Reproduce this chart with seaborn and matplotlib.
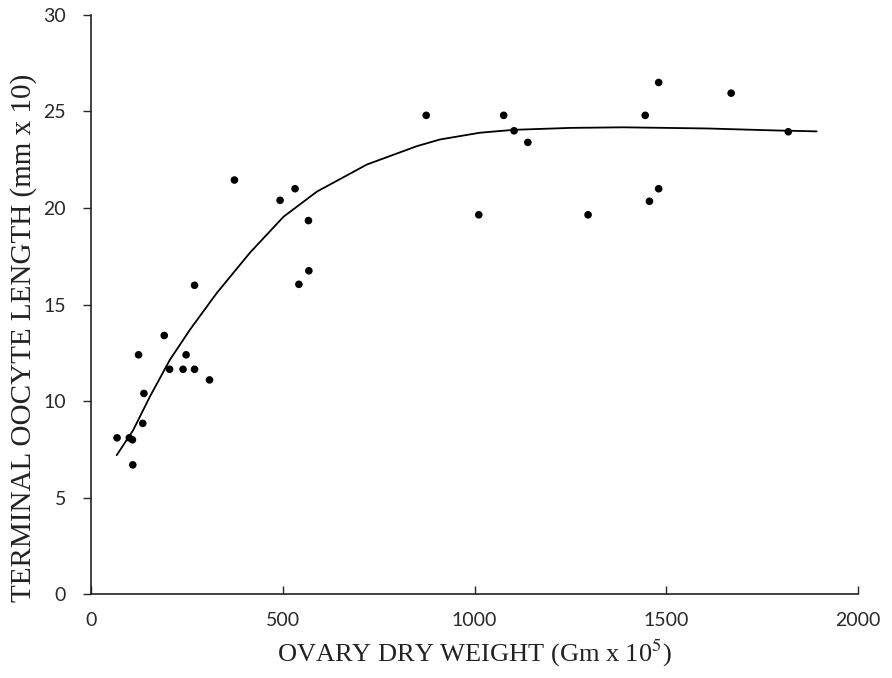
import pandas as pd
import matplotlib.pyplot as plt
import seaborn as sns

# ----- data -----
ovary_weight = [68, 100, 108, 109, 135, 138, 124, 191, 205, 240, 248, 270,
                309, 270, 374, 493, 532, 542, 567, 568, 874, 1011, 1076,
                1103, 1139, 1296, 1445, 1456, 1480, 1480, 1669, 1818]
oocyte_length = [8.1, 8.1, 8.0, 6.7, 8.85, 10.4, 12.4, 13.4, 11.65, 11.65,
                 12.4, 11.65, 11.1, 16.0, 21.45, 20.4, 21.0, 16.05, 19.35,
                 16.75, 24.8, 19.65, 24.8, 24.0, 23.4, 19.65, 24.8, 20.35,
                 26.5, 21.0, 25.95, 23.95]

# fitted curve
curve_x = [67, 110, 154, 206, 258, 328, 415, 502, 589, 719, 849, 910,
           1014, 1103, 1250, 1388, 1606, 1780, 1892]
curve_y = [7.2, 8.5, 10.25, 12.15, 13.7, 15.6, 17.7, 19.55, 20.85, 22.25,
           23.2, 23.55, 23.9, 24.05, 24.15, 24.18, 24.12, 24.02, 23.97]

pts = pd.DataFrame({"weight": ovary_weight, "length": oocyte_length})
fit = pd.DataFrame({"weight": curve_x, "length": curve_y})

sns.set_style("ticks")
plt.rcParams["font.family"] = ["Lato", "DejaVu Sans"]
plt.rcParams["mathtext.fontset"] = "stix"

fig = plt.figure(figsize=(8.92, 6.78), dpi=100)
ax = fig.add_axes([0.102, 0.1235, 0.86, 0.8545])

sns.lineplot(data=fit, x="weight", y="length", ax=ax, color="black",
             linewidth=1.3, sort=False)
sns.scatterplot(data=pts, x="weight", y="length", ax=ax, color="black",
                s=30, edgecolor="none")

ax.set_xlim(0, 2000)
ax.set_ylim(0, 30)
ax.set_xticks([0, 500, 1000, 1500, 2000])
ax.set_yticks([0, 5, 10, 15, 20, 25, 30])
ax.tick_params(axis="x", direction="in", length=6, width=1, pad=13,
               labelsize=14, labelcolor="#2a2a2a")
ax.tick_params(axis="y", direction="out", length=6, width=1, pad=12,
               labelsize=14, labelcolor="#2a2a2a")

for side in ["top", "right"]:
    ax.spines[side].set_visible(False)
for side in ["left", "bottom"]:
    ax.spines[side].set_linewidth(1.2)
    ax.spines[side].set_color("#222222")

serif = ["Liberation Serif", "DejaVu Serif"]
ax.set_xlabel(r"OVARY DRY WEIGHT (Gm x 10$^{5}$)", family=serif, fontsize=19,
              labelpad=6, color="#222222")
ax.set_ylabel("TERMINAL OOCYTE LENGTH (mm x 10)", family=serif, fontsize=21,
              color="#222222")
ax.yaxis.set_label_coords(-0.07, 0.442)

fig.savefig("out.png", dpi=100)
